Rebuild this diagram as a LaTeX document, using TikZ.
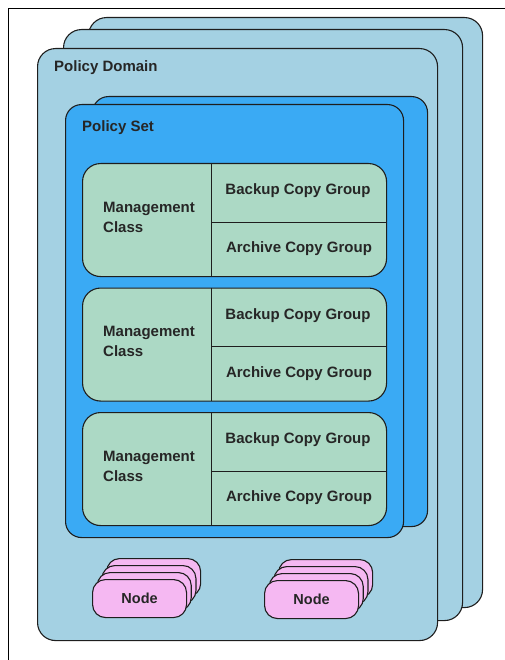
\documentclass[tikz,border=0pt]{standalone}
\usepackage{fontspec}
\setmainfont{Liberation Sans}
\definecolor{domfill}{HTML}{A4D1E3}
\definecolor{setfill}{HTML}{3AAAF4}
\definecolor{mcfill}{HTML}{ACD9C5}
\definecolor{nodefill}{HTML}{F5B8F2}
\definecolor{edge}{HTML}{1E1E1E}
\begin{document}
\begin{tikzpicture}[x=1pt,y=-1pt,
  box/.style={draw=edge,line width=1.1pt,anchor=north west,inner sep=0pt},
  dombox/.style={box,fill=domfill,rounded corners=18pt},
  setbox/.style={box,fill=setfill,rounded corners=16pt},
  mcbox/.style={box,fill=mcfill,rounded corners=18pt,minimum width=304pt,minimum height=113pt},
  nbox/.style={box,fill=nodefill,rounded corners=13pt,minimum width=94pt,minimum height=38pt},
  lbl/.style={font=\bfseries\fontsize{15}{20}\selectfont,text=black!85,inner sep=0pt},
  divider/.style={draw=edge,line width=1pt}]
\useasboundingbox (0,0) rectangle (505,660);
% frame
\draw[line width=0.9pt] (8,660) -- (8,8) -- (505,8);
% policy domains
\node[dombox,minimum width=394pt,minimum height=590pt] (dom3) at (88,17) {};
\node[dombox,minimum width=399pt,minimum height=591pt] (dom2) at (63,29) {};
\node[dombox,minimum width=400pt,minimum height=592pt] (dom1) at (37,48) {};
\node[lbl,anchor=west] (domlbl) at (54,68) {Policy Domain};
% policy sets
\node[setbox,minimum width=335pt,minimum height=430pt] (set2) at (92,96) {};
\node[setbox,minimum width=338pt,minimum height=433pt] (set1) at (65,104) {};
\node[lbl,anchor=west] (setlbl) at (82,128) {Policy Set};
% management classes
\foreach \i/\y in {1/163,2/287.5,3/412}{
  \node[mcbox] (mc\i) at (82,\y) {};
  \coordinate (vt\i) at (211,\y);
  \coordinate (vb\i) at (211,\y+113);
  \coordinate (hl\i) at (211,\y+59);
  \coordinate (hr\i) at (386,\y+59);
  \draw[divider] (vt\i) -- (vb\i);
  \draw[divider] (hl\i) -- (hr\i);
  \node[lbl,anchor=west,align=left] (mct\i) at (103,\y+54) {Management\\Class};
  \node[lbl] (bcg\i) at (298,\y+28) {Backup Copy Group};
  \node[lbl] (acg\i) at (299,\y+86) {Archive Copy Group};
}
% node stacks
\foreach \k in {3,2,1,0}{
  \node[nbox] (na\k) at (92+4.7*\k,579-7*\k) {};
  \node[nbox] (nb\k) at (264+4.7*\k,580-7*\k) {};
}
\node[lbl,font=\bfseries\fontsize{14.5}{18}\selectfont] (natxt) at (na0.center) {Node};
\node[lbl,font=\bfseries\fontsize{14.5}{18}\selectfont] (nbtxt) at (nb0.center) {Node};
\end{tikzpicture}
\end{document}
